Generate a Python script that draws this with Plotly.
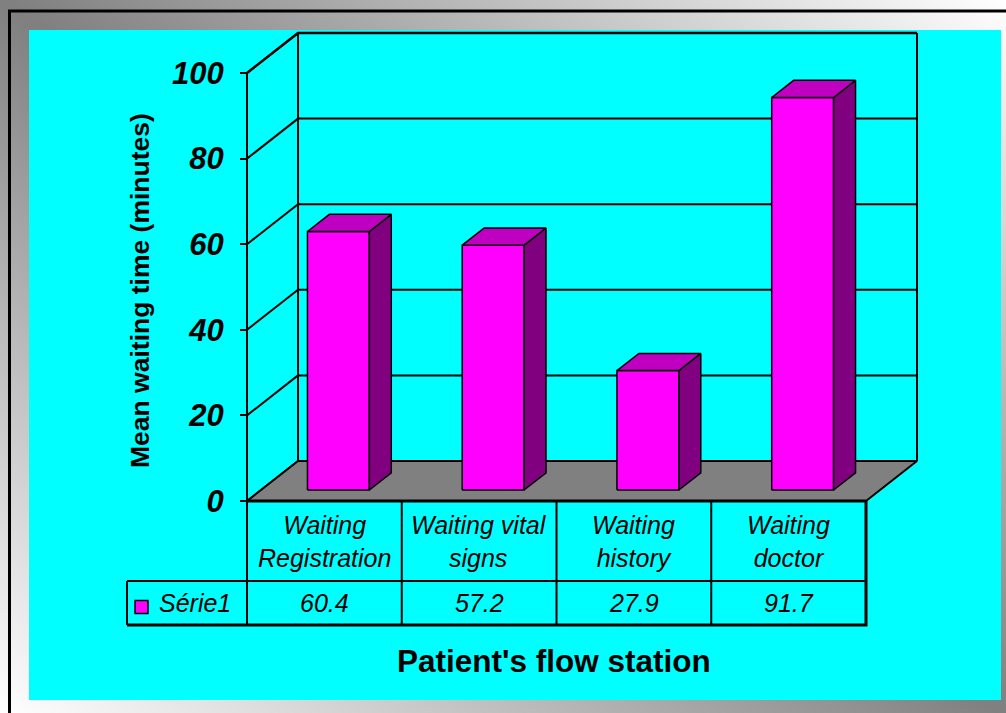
import numpy as np
import plotly.graph_objects as go

# ---------------- data ----------------
categories = ["Waiting<br>Registration", "Waiting vital<br>signs", "Waiting<br>history", "Waiting<br>doctor"]
values = [60.4, 57.2, 27.9, 91.7]
series_name = "Série1"
y_ticks = [0, 20, 40, 60, 80, 100]
y_title = "Mean waiting time (minutes)"
x_title = "Patient's flow station"

# ---------------- geometry (page pixels) ----------------
W, H = 1006, 713
FX0, FX_PER = 247, 154.75      # front plane: x=0 at px 247, one category = 154.75 px
FY0, FY_PER = 501, 4.28        # y=0 at py 501, one unit = 4.28 px


def X(px):
    return (px - FX0) / FX_PER


def Y(py):
    return (FY0 - py) / FY_PER


DX = 51 / FX_PER               # depth offset in x units
DY = 40 / FY_PER               # depth offset in y units
F0, F1 = 0.275, 0.705          # bar front / back depth fractions
BAR_W = 0.40
YMAX = max(y_ticks)
N = len(values)

MAGENTA = "#ff00ff"
TOP = "#c000c0"
SIDE = "#800080"
CYAN = "#00ffff"
FONT = "Liberation Sans"

fig = go.Figure()

# ---------------- background frame (pixel axes x/y) ----------------
gx = np.linspace(0, W, 80)
gy = np.linspace(0, H, 60)
U, V = np.meshgrid(gx / W, gy / H)
fig.add_trace(go.Heatmap(x=gx, y=gy, z=np.abs(U - V), colorscale=[[0, "#7f7f7f"], [1, "#ffffff"]],
                         showscale=False, zsmooth="best", hoverinfo="skip", xaxis="x", yaxis="y"))
fig.add_trace(go.Scatter(x=[29, 1001, 1001, 29, 29], y=[30, 30, 700, 700, 30], fill="toself",
                         fillcolor=CYAN, mode="lines", line=dict(width=0), hoverinfo="skip",
                         xaxis="x", yaxis="y"))
fig.add_trace(go.Scatter(x=[9.5, 9.5, W + 5], y=[H + 5, 11, 11], mode="lines",
                         line=dict(color="black", width=3), hoverinfo="skip", xaxis="x", yaxis="y"))


def lines(xs, ys, width=2):
    fig.add_trace(go.Scatter(x=xs, y=ys, mode="lines", line=dict(color="black", width=width),
                             hoverinfo="skip", xaxis="x2", yaxis="y2"))


def poly(xs, ys, color, width=1.5):
    fig.add_trace(go.Scatter(x=xs + [xs[0]], y=ys + [ys[0]], mode="lines", fill="toself",
                             fillcolor=color, line=dict(color="black", width=width),
                             hoverinfo="skip", xaxis="x2", yaxis="y2"))


# ---------------- walls and gridlines ----------------
lx, ly = [], []
for t in y_ticks:
    lx += [0, DX, None]
    ly += [t, t + DY, None]
    lx += [DX, N + DX, None]
    ly += [t + DY, t + DY, None]
lx += [DX, DX, None, N + DX, N + DX, None, 0, 0]
ly += [DY, YMAX + DY, None, DY, YMAX + DY, None, 0, YMAX]
lines(lx, ly, 2)
lines([0, DX, N + DX], [YMAX, YMAX + DY, YMAX + DY], 2.5)

# floor
poly([0, N, N + DX, DX], [0, 0, DY, DY], "#808080", 2)
lines([0, N], [0, 0], 3)

# ---------------- bars ----------------
ddx = (F1 - F0) * DX
ddy = (F1 - F0) * DY
for i, v in enumerate(values):
    xl = i + 0.5 - BAR_W / 2 + F0 * DX
    xr = xl + BAR_W
    b = F0 * DY
    poly([xl, xr, xr, xl], [b, b, b + v, b + v], MAGENTA)
    poly([xr, xr + ddx, xr + ddx, xr], [b, b + ddy, b + v + ddy, b + v], SIDE)
    poly([xl, xr, xr + ddx, xl + ddx], [b + v, b + v, b + v + ddy, b + v + ddy], TOP)

# ---------------- data table ----------------
tx, ty = [], []
for k in range(N + 1):
    tx += [k, k, None]
    ty += [0, Y(625), None]
tx += [X(127), N, None, X(127), X(127)]
ty += [Y(581), Y(581), None, Y(581), Y(625)]
lines(tx, ty, 2)
lines([X(127), N, N], [Y(625), Y(625), 0], 3)

# legend key
fig.add_trace(go.Scatter(x=[X(141.5)], y=[Y(607)], mode="markers",
                         marker=dict(symbol="square", size=13, color=MAGENTA,
                                     line=dict(color="black", width=1.5)),
                         hoverinfo="skip", xaxis="x2", yaxis="y2"))

ann = []
cell_font = dict(family=FONT, size=25, color="black", style="italic")
for i, (c, v) in enumerate(zip(categories, values)):
    ann.append(dict(x=i + 0.5, y=Y(541), xref="x2", yref="y2", text=c, showarrow=False,
                    font=cell_font, align="center"))
    ann.append(dict(x=i + 0.5, y=Y(603), xref="x2", yref="y2", text=str(v), showarrow=False,
                    font=cell_font))
ann.append(dict(x=X(157), y=Y(603), xref="x2", yref="y2", text=series_name, showarrow=False,
                xanchor="left", font=cell_font))
ann.append(dict(x=X(554), y=Y(661), xref="x2", yref="y2", text=x_title, showarrow=False,
                font=dict(family=FONT, size=31.5, color="black", weight="bold")))
ann.append(dict(x=X(140), y=Y(291), xref="x2", yref="y2", text=y_title, showarrow=False,
                textangle=-90, font=dict(family=FONT, size=26.5, color="black", weight="bold")))

fig.update_layout(
    width=W, height=H, margin=dict(l=0, r=0, t=0, b=0),
    paper_bgcolor="white", plot_bgcolor="rgba(0,0,0,0)", showlegend=False,
    annotations=ann,
    xaxis=dict(domain=[0, 1], range=[0, W], visible=False),
    yaxis=dict(domain=[0, 1], range=[H, 0], visible=False),
    xaxis2=dict(domain=[0, 1], range=[X(0), X(W)], visible=False, anchor="y2"),
    yaxis2=dict(domain=[0, 1], range=[Y(H), Y(0)], anchor="free", position=FX0 / W,
                showgrid=False, zeroline=False, showline=False, ticks="outside",
                ticklen=7, tickwidth=2, tickcolor="black", tickvals=y_ticks,
                ticklabelstandoff=10,
                tickfont=dict(family=FONT, size=31, color="black", weight="bold", style="italic")),
)

fig.write_html("out.html", config={"displayModeBar": False},
               post_script="document.body.style.margin='0';document.body.style.overflow='hidden';")
